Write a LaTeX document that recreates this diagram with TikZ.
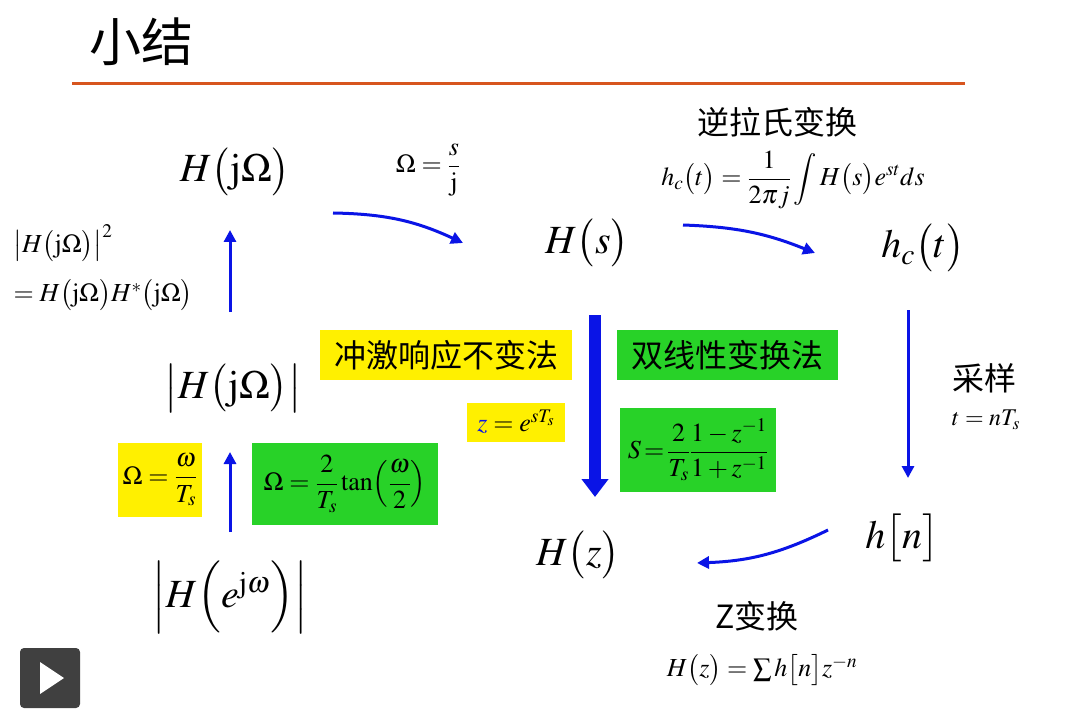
\documentclass[tikz,border=0pt]{standalone}
\usepackage{amsmath}
\usepackage{mathptmx}
\usepackage{fontspec}
\setmainfont{Liberation Serif}
\newfontfamily\cjk{Noto Sans CJK SC}
\usetikzlibrary{arrows.meta}
\definecolor{arrblue}{RGB}{10,20,230}
\definecolor{ybox}{RGB}{255,240,0}
\definecolor{gbox}{RGB}{40,210,40}
\definecolor{rule}{RGB}{215,85,30}
\tikzset{
 big/.style={font=\fontsize{40}{46}\selectfont},
 mid/.style={font=\fontsize{26}{31}\selectfont},
 sml/.style={font=\fontsize{24}{29}\selectfont},
 lab/.style={font=\cjk\fontsize{32}{36}\selectfont},
 arr/.style={draw=arrblue,line width=3pt,-{Triangle[length=12pt,width=12pt]}},
 yb/.style={fill=ybox,inner sep=1pt},
 gb/.style={fill=gbox,inner sep=1pt}
}
\begin{document}
\begin{tikzpicture}[x=1pt,y=-1pt]
\useasboundingbox (0,0) rectangle (1075,711);
\fill[white] (0,0) rectangle (1075,711);
\node[font=\cjk\fontsize{52}{58}\selectfont] (title) at (141,42) {小结};
\draw[rule,line width=3pt] (72,84) -- (965,84);
% nodes
\node[big] (Hjw) at (235,172) {$H\bigl(\mathrm{j}\Omega\bigr)$};
\node[mid] (osj) at (428,170) {$\Omega=\dfrac{s}{\mathrm{j}}$};
\node[big] (Hs) at (587,243) {$H\bigl(s\bigr)$};
\node[lab] (ilt) at (777,122) {逆拉氏变换};
\node[mid] (ilf) at (793,180) {$h_c\bigl(t\bigr)=\dfrac{1}{2\pi j}\displaystyle\int H\bigl(s\bigr)e^{st}ds$};
\node[big] (hct) at (923,248) {$h_c\bigl(t\bigr)$};
\node[lab] (cy) at (984,378) {采样};
\node[sml] (tn) at (986,420) {$t=nT_s$};
\node[big] (hn) at (902,538) {$h\bigl[n\bigr]$};
\node[big] (Hz) at (578,555) {$H\bigl(z\bigr)$};
\node[lab] (zt) at (757,616) {Z变换};
\node[mid] (ztf) at (762,670) {$H\bigl(z\bigr)=\sum h\bigl[n\bigr]z^{-n}$};
\node[yb,lab,minimum width=252pt,minimum height=50pt] (imp) at (446,355) {冲激响应不变法};
\node[gb,lab,minimum width=221pt,minimum height=50pt] (bil) at (727,355) {双线性变换法};
\node[yb,mid,minimum width=98pt,minimum height=39pt] (zes) at (516,422) {$\color{arrblue}z\color{black}=e^{sT_s}$};
\node[gb,mid,minimum width=156pt,minimum height=84pt] (sbil) at (698,450) {$S\!=\!\dfrac{2}{T_s}\dfrac{1-z^{-1}}{1+z^{-1}}$};
\node[mid,anchor=west] (sq1) at (10,243) {$\bigl|H\bigl(\mathrm{j}\Omega\bigr)\bigr|^2$};
\node[mid,anchor=west] (sq2) at (10,295) {$=H\bigl(\mathrm{j}\Omega\bigr)H^{*}\bigl(\mathrm{j}\Omega\bigr)$};
\node[big] (aHjw) at (233,388) {$\bigl|H\bigl(\mathrm{j}\Omega\bigr)\bigr|$};
\node[yb,mid,minimum width=84pt,minimum height=74pt] (ow) at (160,480) {$\Omega=\dfrac{\omega}{T_s}$};
\node[gb,mid,minimum width=186pt,minimum height=82pt] (otan) at (345,484) {$\Omega=\dfrac{2}{T_s}\tan\Bigl(\dfrac{\omega}{2}\Bigr)$};
\node[big] (aHe) at (230,597) {$\Bigl|H\Bigl(e^{\mathrm{j}\omega}\Bigr)\Bigr|$};
% connectors
\coordinate (a1s) at (333,213); \coordinate (a1e) at (463,243);
\draw[arr] (a1s) to[bend left=12] (a1e);
\coordinate (a2s) at (683,225); \coordinate (a2e) at (815,253);
\draw[arr] (a2s) to[bend left=10] (a2e);
\coordinate (a3s) at (908,310); \coordinate (a3e) at (908,478);
\draw[arr] (a3s) -- (a3e);
\coordinate (a4s) at (828,530); \coordinate (a4e) at (697,563);
\draw[arr] (a4s) to[bend left=12] (a4e);
\coordinate (a5s) at (595,315); \coordinate (a5e) at (595,497);
\draw[draw=arrblue,line width=12pt,-{Triangle[length=18pt,width=26pt]}] (a5s) -- (a5e);
\coordinate (a6s) at (230,312); \coordinate (a6e) at (230,230);
\draw[arr] (a6s) -- (a6e);
\coordinate (a7s) at (230,532); \coordinate (a7e) at (230,452);
\draw[arr] (a7s) -- (a7e);
% play button
\fill[black!75,rounded corners=4pt] (20,648) rectangle (80,708);
\fill[white] (40,662) -- (40,694) -- (64,678) -- cycle;
\end{tikzpicture}
\end{document}
